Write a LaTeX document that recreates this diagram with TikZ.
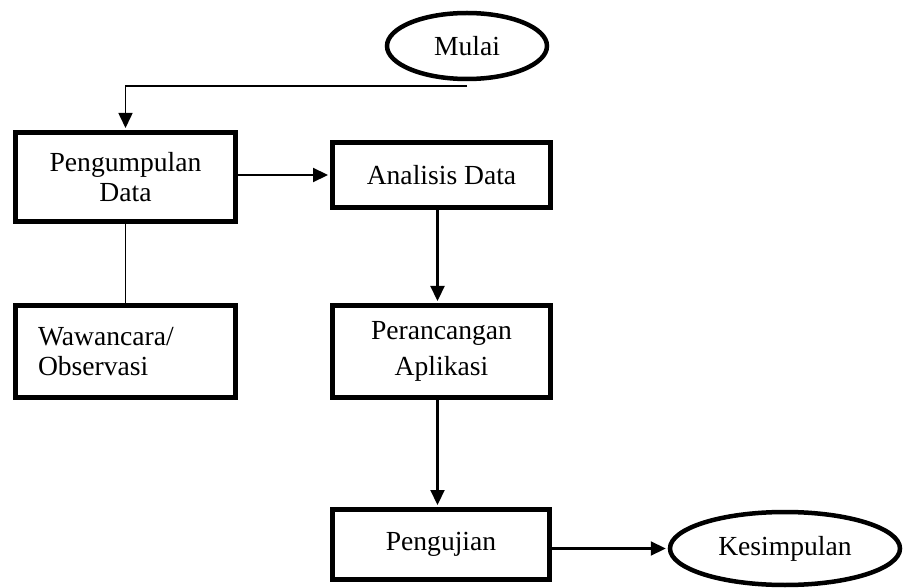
\documentclass[tikz,border=0pt]{standalone}
\usepackage{fontspec}
\setmainfont{Liberation Serif}
\usetikzlibrary{shapes.geometric,arrows.meta}

\tikzset{
  lbl/.style={font=\fontsize{27.6}{30.4}\selectfont},
  stepbox/.style={lbl,draw,line width=5pt,rectangle,inner sep=0pt,align=center},
  endcap/.style={lbl,draw,line width=4.5pt,ellipse,inner sep=0pt},
  arr/.style={line width=2.2pt,-{Triangle[length=15pt,width=14pt]},shorten >=2pt},
  plain/.style={line width=1.2pt}
}

\begin{document}
\begin{tikzpicture}[x=1pt,y=-1pt]
  \useasboundingbox (0,0) rectangle (903,588);

  % start and end terminals
  \node[endcap,minimum width=160pt,minimum height=66pt] (mulai) at (467,46) {Mulai};
  \node[endcap,minimum width=230pt,minimum height=73pt] (kesimpulan) at (785,548.5) {Kesimpulan};

  % process steps
  \node[stepbox,minimum width=220pt,minimum height=89pt] (kumpul) at (125.5,177)
    {Pengumpulan\\Data};
  \node[stepbox,minimum width=218pt,minimum height=65pt] (analisis) at (441.5,175)
    {Analisis Data};
  \node[stepbox,minimum width=220pt,minimum height=92pt,align=left,
        text width=175pt,inner xsep=22.5pt] (wawancara) at (125.5,351.5)
    {Wawancara/\\Observasi};
  \node[stepbox,minimum width=218pt,minimum height=92pt,
        font=\fontsize{27.6}{36}\selectfont] (rancang) at (441.5,351.5)
    {Perancangan\\Aplikasi};
  \node[stepbox,minimum width=217pt,minimum height=70pt] (uji) at (441,544.5)
    {Pengujian};

  % connectors
  \coordinate (m1) at ([yshift=-5pt]mulai.south);
  \draw[arr,line width=1.6pt] (m1) -| (kumpul.north);
  \draw[arr] (kumpul.east |- analisis.west) -- (analisis.west);
  \draw[plain] (kumpul.south) -- (wawancara.north);
  \draw[arr] ([xshift=-4pt]analisis.south) -- ([xshift=-4pt]analisis.south |- rancang.north);
  \draw[arr] ([xshift=-4pt]rancang.south) -- ([xshift=-4pt]rancang.south |- uji.north);
  \draw[arr] (uji.east |- kesimpulan.west) -- (kesimpulan.west);
\end{tikzpicture}
\end{document}
